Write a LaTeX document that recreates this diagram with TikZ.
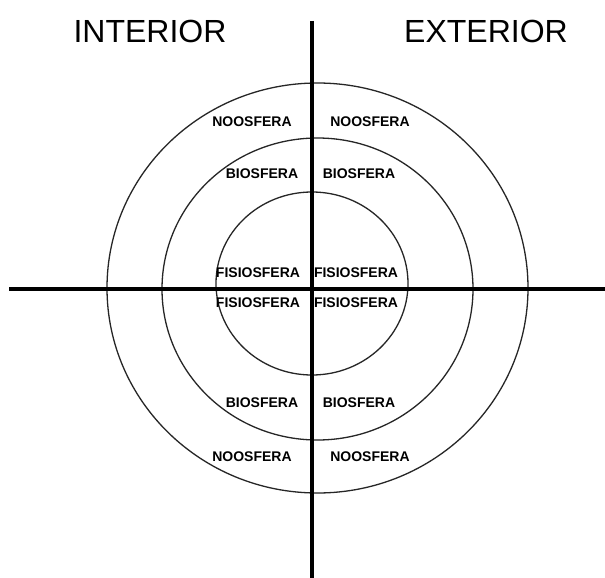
\documentclass[tikz,border=0pt]{standalone}
\usepackage{fontspec}
\setmainfont{Liberation Sans}
\begin{document}
\begin{tikzpicture}[x=1pt,y=-1pt,
  ring/.style={draw=black!85,line width=1.3pt},
  axis/.style={draw=black,line width=3.2pt},
  lab/.style={font=\fontsize{14}{16}\selectfont\bfseries,inner sep=0pt,anchor=center},
  head/.style={font=\fontsize{32}{36}\selectfont,inner sep=0pt,anchor=center}]
\useasboundingbox (0,0) rectangle (605,578);
\fill[white] (0,0) rectangle (605,578);
\draw[ring] (317.5,288) ellipse [x radius=210.5, y radius=205];
\draw[ring] (317.5,289) ellipse [x radius=155.5, y radius=151];
\draw[ring] (312,283.5) ellipse [x radius=96, y radius=91.5];
\coordinate (vt) at (312,21);
\coordinate (vb) at (312,578);
\coordinate (hl) at (9,289);
\coordinate (hr) at (605,289);
\draw[axis] (vt) -- (vb);
\draw[axis] (hl) -- (hr);
\node[head] (int) at (150,31) {INTERIOR};
\node[head] (ext) at (486,31) {EXTERIOR};
\node[lab] (n1) at (252,122) {NOOSFERA};
\node[lab] (n2) at (370,122) {NOOSFERA};
\node[lab] (b1) at (262,174) {BIOSFERA};
\node[lab] (b2) at (359,174) {BIOSFERA};
\node[lab] (f1) at (258,273) {FISIOSFERA};
\node[lab] (f2) at (356,273) {FISIOSFERA};
\node[lab] (f3) at (258,303) {FISIOSFERA};
\node[lab] (f4) at (356,303) {FISIOSFERA};
\node[lab] (b3) at (262,403) {BIOSFERA};
\node[lab] (b4) at (359,403) {BIOSFERA};
\node[lab] (n3) at (252,457) {NOOSFERA};
\node[lab] (n4) at (370,457) {NOOSFERA};
\end{tikzpicture}
\end{document}
